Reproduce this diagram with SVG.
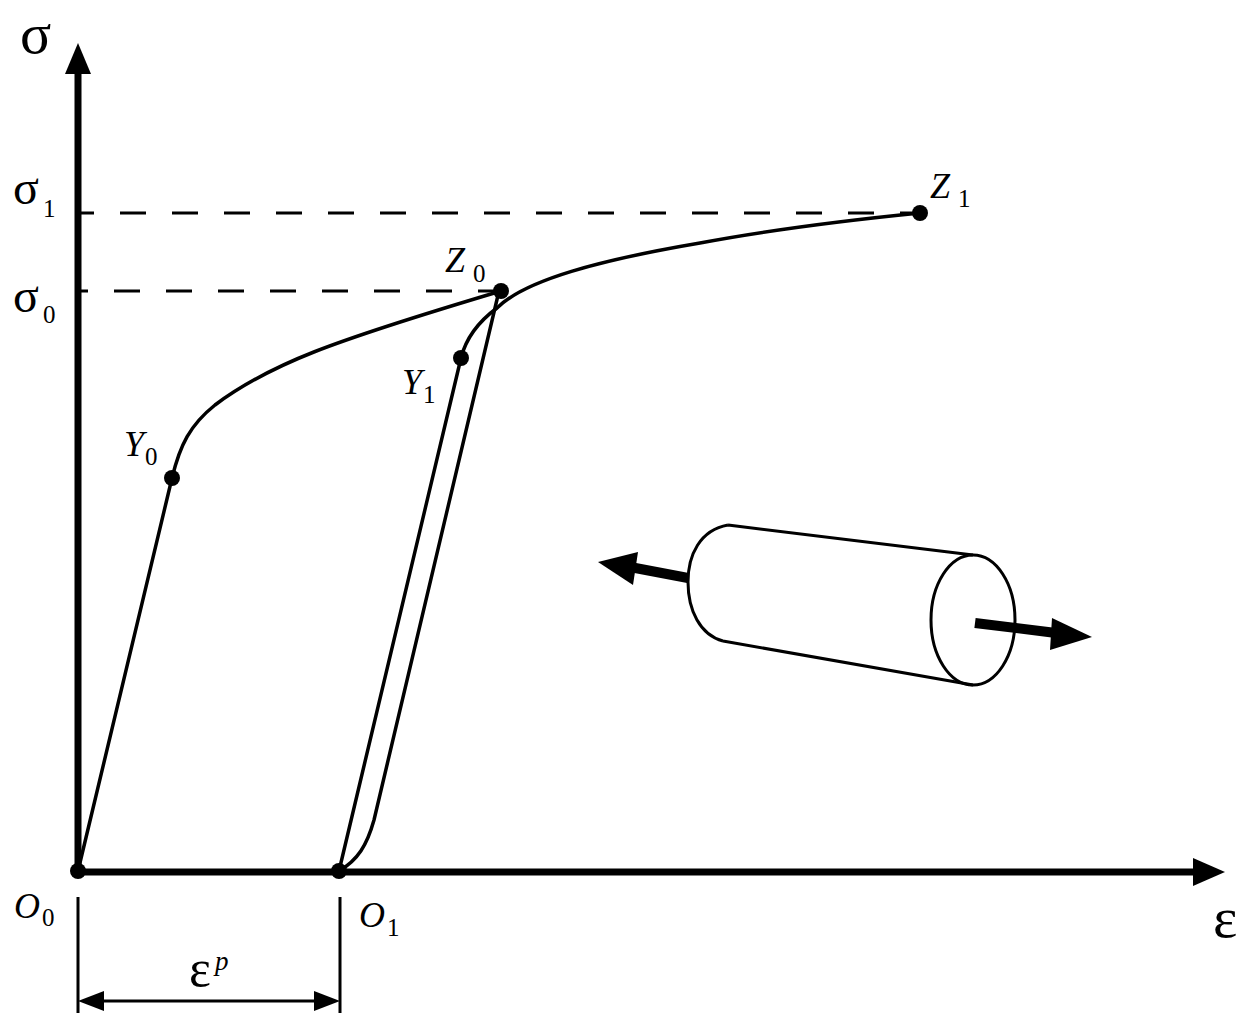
<svg xmlns="http://www.w3.org/2000/svg" width="1251" height="1022" viewBox="0 0 1251 1022">
<style>
.t{font-family:"Liberation Serif","Times New Roman",serif;fill:#000}
.i{font-style:italic;font-size:36px}
.s{font-size:25px}
.g{font-size:58px}
.gs{font-size:48px}
.e{font-size:52px}
.c{fill:none;stroke:#000;stroke-width:3.5;stroke-linejoin:round}
.d{fill:none;stroke:#000;stroke-width:3;stroke-dasharray:26 26}
.ax{fill:none;stroke:#000;stroke-width:7}
.th{fill:none;stroke:#000;stroke-width:3}
</style>
<rect width="1251" height="1022" fill="#fff"/>
<g id="connectors">
<path class="ax" d="M78 70V872"/><polygon points="78,43 65,74 91,74"/>
<path class="ax" d="M78 872H1197"/><polygon points="1225,872 1193,858 1193,886"/>
<path class="d" style="stroke-dashoffset:13" d="M81 213H915"/>
<path class="d" style="stroke-dashoffset:19" d="M81 291H500"/>
<path class="c" d="M78 871L172 478C180 445 190 425 215 405C270 364 330 342 501 291"/>
<path class="c" d="M339 871L461 358C466 338 478 322 497 308C525 280 600 260 700 243C780 228 860 219 920 213"/>
<path class="c" d="M339 871C358 860 367 845 374 820L499 291"/>
<path class="th" d="M78 897V1013M340 897V1013M100 1001H318"/>
<polygon points="78,1001 104,991 104,1011"/><polygon points="340,1001 314,991 314,1011"/>
</g>
<g id="cylinder">
<path class="th" d="M728 525L973 555M723 641L973 685M728 525C700 530 688 555 688 582C688 610 700 635 723 641"/>
<ellipse class="th" cx="973" cy="620" rx="42" ry="65"/>
<path d="M688 578L630 567" stroke="#000" stroke-width="10" fill="none"/>
<polygon points="598,562 638,552 633,585"/>
<path d="M975 623L1056 633" stroke="#000" stroke-width="10" fill="none"/>
<polygon points="1092,637 1052,618 1050,650"/>
</g>
<g id="O0"><circle cx="78" cy="871" r="8"/></g>
<g id="O1"><circle cx="339" cy="871" r="8"/></g>
<g id="Y0"><circle cx="172" cy="478" r="8"/></g>
<g id="Y1"><circle cx="461" cy="358" r="8"/></g>
<g id="Z0"><circle cx="501" cy="291" r="8"/></g>
<g id="Z1"><circle cx="920" cy="213" r="8"/></g>
<g id="labels">
<text class="t g" x="20" y="53">σ</text>
<text class="t gs" x="13" y="204">σ</text><text class="t s" x="43" y="217">1</text>
<text class="t gs" x="13" y="312">σ</text><text class="t s" x="43" y="323">0</text>
<text class="t i" x="930" y="198">Z</text><text class="t s" x="958" y="207">1</text>
<text class="t i" x="445" y="272">Z</text><text class="t s" x="473" y="282">0</text>
<text class="t i" x="402" y="394">Y</text><text class="t s" x="423" y="403">1</text>
<text class="t i" x="124" y="456">Y</text><text class="t s" x="145" y="465">0</text>
<text class="t i" x="14" y="918">O</text><text class="t s" x="42" y="926">0</text>
<text class="t i" x="359" y="927">O</text><text class="t s" x="387" y="936">1</text>
<text class="t g" x="1213" y="937">ε</text>
<text class="t e" x="189" y="986">ε</text><text class="t" x="215" y="970" font-size="27" font-style="italic">p</text>
</g>
</svg>
